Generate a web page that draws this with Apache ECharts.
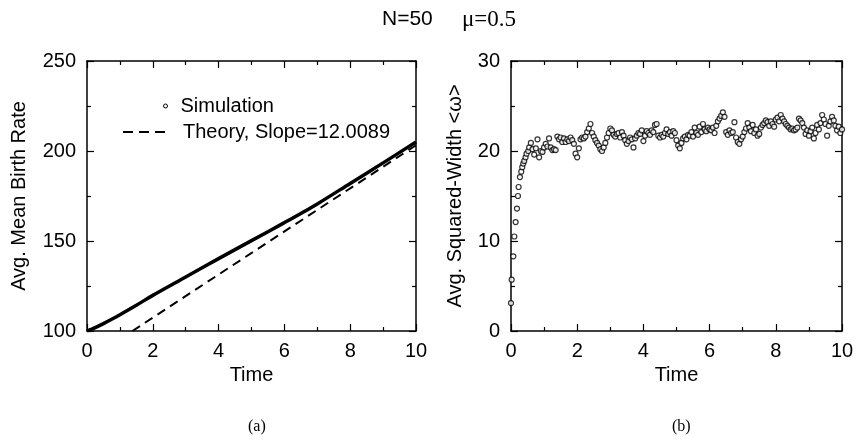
<!DOCTYPE html>
<html>
<head>
<meta charset="utf-8">
<script src="https://cdn.jsdelivr.net/npm/echarts@6/dist/echarts.min.js"></script>
<style>html,body{margin:0;padding:0;background:#fff}#c{width:859px;height:440px}</style>
</head>
<body>
<div id="c"></div>
<script>
// Panel (a): average mean birth rate
const simT = [0, 0.25, 0.5, 0.75, 1, 1.5, 2, 3, 4, 5, 6, 7, 8, 9, 10];
const simV = [100, 101.9, 104.1, 106.5, 109, 114.3, 119.8, 130, 140.2, 150.2, 160.2, 170.6, 182, 193.4, 205];
const theoryT = [1.38, 10];
const theoryV = [100, 203.2];
const xTicksA = [0, 2, 4, 6, 8, 10];
const yTicksA = [100, 150, 200, 250];

// Panel (b): average squared width
const wT = [0, 0.02, 0.07, 0.10, 0.14, 0.18, 0.21, 0.23, 0.27, 0.31, 0.34, 0.37, 0.40, 0.44, 0.47, 0.52,
  0.55, 0.60, 0.65, 0.70, 0.75, 0.80, 0.85, 0.90, 0.95, 1.00, 1.05, 1.10, 1.15, 1.20, 1.25, 1.30, 1.35, 1.40, 1.45, 1.50,
  1.55, 1.60, 1.65, 1.70, 1.75, 1.80, 1.85, 1.90, 1.95, 2.00, 2.05, 2.10, 2.15, 2.20, 2.25, 2.30, 2.35, 2.40, 2.45, 2.50,
  2.55, 2.60, 2.65, 2.70, 2.75, 2.80, 2.85, 2.90, 2.95, 3.00, 3.05, 3.10, 3.15, 3.20, 3.25, 3.30, 3.35, 3.40, 3.45, 3.50,
  3.55, 3.60, 3.65, 3.70, 3.75, 3.80, 3.85, 3.90, 3.95, 4.00, 4.05, 4.10, 4.15, 4.20, 4.25, 4.30, 4.35, 4.40, 4.45, 4.50,
  4.55, 4.60, 4.65, 4.70, 4.75, 4.80, 4.85, 4.90, 4.95, 5.00, 5.05, 5.10, 5.15, 5.20, 5.25, 5.30, 5.35, 5.40, 5.45, 5.50,
  5.55, 5.60, 5.65, 5.70, 5.75, 5.80, 5.85, 5.90, 5.95, 6.00, 6.05, 6.10, 6.15, 6.20, 6.25, 6.30, 6.35, 6.40, 6.45, 6.50,
  6.55, 6.60, 6.65, 6.70, 6.75, 6.80, 6.85, 6.90, 6.95, 7.00, 7.05, 7.10, 7.15, 7.20, 7.25, 7.30, 7.35, 7.40, 7.45, 7.50,
  7.55, 7.60, 7.65, 7.70, 7.75, 7.80, 7.85, 7.90, 7.95, 8.00, 8.05, 8.10, 8.15, 8.20, 8.25, 8.30, 8.35, 8.40, 8.45, 8.50,
  8.55, 8.60, 8.65, 8.70, 8.75, 8.80, 8.85, 8.90, 8.95, 9.00, 9.05, 9.10, 9.15, 9.20, 9.25, 9.30, 9.35, 9.40, 9.45, 9.50,
  9.55, 9.60, 9.65, 9.70, 9.75, 9.80, 9.85, 9.90, 9.95, 10.00];
const wV = [3.1, 5.7, 8.3, 10.5, 12.1, 13.6, 15.0, 16.0, 17.1, 17.7, 18.2, 18.6, 18.9, 19.3, 19.7, 20.0,
  20.4, 20.9, 20.2, 19.6, 20.3, 21.3, 19.3, 20.0, 19.9, 20.4, 20.8, 20.5, 21.4, 20.4, 20.1, 20.2, 20.1, 21.6, 21.3, 21.5,
  21.0, 21.4, 21.0, 21.3, 21.1, 21.5, 21.2, 20.8, 19.7, 19.3, 20.3, 21.3, 21.5, 21.4, 21.6, 22.1, 22.5, 23.0, 22.0, 21.6,
  21.2, 20.9, 20.6, 20.2, 20.0, 20.4, 20.9, 21.5, 22.0, 22.5, 22.3, 21.8, 21.6, 21.9, 22.0, 21.5, 22.1, 21.7, 21.2, 20.8,
  21.1, 21.5, 21.3, 20.4, 21.4, 21.7, 22.0, 21.9, 22.3, 21.1, 21.7, 22.2, 22.0, 21.8, 22.3, 22.1, 22.9, 23.0, 21.7, 21.5,
  21.8, 21.6, 22.0, 22.4, 21.9, 22.1, 21.7, 22.2, 22.0, 21.2, 20.6, 20.3, 20.9, 21.4, 21.6, 21.3, 21.8, 21.7, 22.1, 21.6,
  22.6, 22.0, 21.8, 22.7, 22.1, 23.0, 22.4, 22.2, 22.6, 22.4, 22.3, 22.6, 22.0, 22.8, 23.3, 23.6, 23.9, 24.3, 23.8, 22.1,
  21.8, 22.3, 22.0, 22.1, 23.2, 21.5, 21.0, 20.8, 21.3, 21.6, 22.1, 22.5, 23.1, 22.6, 22.2, 22.9, 22.0, 22.4, 21.7, 21.9,
  22.6, 22.9, 23.1, 23.4, 23.2, 22.8, 23.3, 23.0, 22.7, 23.5, 23.7, 23.3, 24.0, 23.6, 23.3, 23.0, 22.8, 22.6, 22.4, 22.5,
  22.3, 22.4, 22.6, 23.6, 23.4, 23.1, 22.6, 21.9, 22.3, 21.7, 22.2, 22.6, 21.4, 22.0, 22.9, 22.4, 23.1, 24.0, 23.5, 23.0,
  21.7, 22.8, 23.3, 23.8, 23.4, 22.8, 22.3, 22.7, 22.0, 22.4];
const xTicksB = [0, 2, 4, 6, 8, 10];
const yTicksB = [0, 10, 20, 30];

const simData = simT.map((t, i) => [t, simV[i]]);
const theoryData = theoryT.map((t, i) => [t, theoryV[i]]);
const wData = wT.map((t, i) => [t, wV[i]]);

const FONT = '"Liberation Sans", Arial, Helvetica, sans-serif';
const SERIF = '"Liberation Serif", "Times New Roman", serif';
const axisLine = { show: true, onZero: false, lineStyle: { color: '#000', width: 1.5 } };
const tick = { show: true, inside: true, length: 7, lineStyle: { color: '#000', width: 1.2 } };
const minor = { show: true, splitNumber: 2, length: 4, lineStyle: { color: '#000', width: 1.2 } };
const lbl = { color: '#000', fontSize: 20, fontFamily: FONT };
const nameStyle = { color: '#000', fontSize: 20, fontFamily: FONT };

function xAxes(grid, ticks) {
  const min = ticks[0], max = ticks[ticks.length - 1], interval = ticks[1] - ticks[0];
  return [
    { type: 'value', gridIndex: grid, position: 'bottom', min, max, interval,
      name: 'Time', nameLocation: 'middle', nameGap: 34, nameTextStyle: nameStyle,
      axisLine, axisTick: tick, minorTick: minor, splitLine: { show: false },
      axisLabel: Object.assign({ margin: 10 }, lbl) },
    { type: 'value', gridIndex: grid, position: 'top', min, max, interval,
      axisLine, axisTick: tick, minorTick: minor, splitLine: { show: false },
      axisLabel: { show: false } }
  ];
}
function yAxes(grid, ticks, name, gap) {
  const min = ticks[0], max = ticks[ticks.length - 1], interval = ticks[1] - ticks[0];
  return [
    { type: 'value', gridIndex: grid, position: 'left', min, max, interval,
      name, nameLocation: 'middle', nameGap: gap, nameTextStyle: nameStyle,
      axisLine, axisTick: tick, minorTick: minor, splitLine: { show: false },
      axisLabel: Object.assign({ margin: 11 }, lbl) },
    { type: 'value', gridIndex: grid, position: 'right', min, max, interval,
      axisLine, axisTick: tick, minorTick: minor, splitLine: { show: false },
      axisLabel: { show: false } }
  ];
}

const chart = echarts.init(document.getElementById('c'), null, { renderer: 'canvas' });
chart.setOption({
  backgroundColor: '#fff',
  animation: false,
  title: [
    { text: '{a|N=50}     {b|\u03bc=0.5}', left: 377, top: 3,
      textStyle: { fontWeight: 'normal', fontFamily: FONT, fontSize: 21, color: '#000', rich: {
        a: { fontFamily: FONT, fontSize: 21, fontWeight: 'normal', color: '#000' },
        b: { fontFamily: SERIF, fontSize: 23, fontWeight: 'normal', color: '#000' } } } },
    { text: '(a)', left: 243, top: 414,
      textStyle: { fontFamily: SERIF, fontSize: 16, fontWeight: 'normal', color: '#000' } },
    { text: '(b)', left: 667, top: 414,
      textStyle: { fontFamily: SERIF, fontSize: 16, fontWeight: 'normal', color: '#000' } }
  ],
  legend: [
    { data: [{ name: 'Simulation', icon: 'circle', itemStyle: { color: '#fff', borderColor: '#000', borderWidth: 1 } }],
      left: 158, top: 91, itemWidth: 20, itemHeight: 4, orient: 'vertical',
      textStyle: { color: '#000', fontSize: 20, fontFamily: FONT }, selectedMode: false },
    { data: [{ name: 'Theory, Slope=12.0089', icon: 'path://M0,0h10v2h-10z M16,0h10v2h-10z M32,0h10v2h-10z',
        itemStyle: { color: '#000', borderWidth: 0 } }],
      left: 118, top: 117, itemWidth: 42, itemHeight: 14, orient: 'vertical',
      textStyle: { color: '#000', fontSize: 20, fontFamily: FONT, padding: [0, 0, 0, 13] }, selectedMode: false }
  ],
  grid: [
    { left: 87, top: 61, width: 329, height: 270 },
    { left: 511, top: 61, width: 331, height: 270 }
  ],
  xAxis: [].concat(xAxes(0, xTicksA), xAxes(1, xTicksB)),
  yAxis: [].concat(yAxes(0, yTicksA, 'Avg. Mean Birth Rate', 58), yAxes(1, yTicksB, 'Avg. Squared-Width <\u03c9>', 46)),
  series: [
    { name: 'Simulation', type: 'line', xAxisIndex: 0, yAxisIndex: 0, data: simData,
      smooth: 0.3, showSymbol: false, symbol: 'none',
      lineStyle: { color: '#000', width: 3.5 }, itemStyle: { color: '#000' } },
    { name: 'Theory, Slope=12.0089', type: 'line', xAxisIndex: 0, yAxisIndex: 0, data: theoryData,
      showSymbol: false, symbol: 'none',
      lineStyle: { color: '#000', width: 2, type: [9, 6] }, itemStyle: { color: '#000' } },
    { name: 'Width', type: 'scatter', xAxisIndex: 2, yAxisIndex: 2, data: wData,
      symbol: 'circle', symbolSize: 5,
      itemStyle: { color: '#fff', borderColor: '#000', borderWidth: 1.2 } }
  ]
});
</script>
</body>
</html>
